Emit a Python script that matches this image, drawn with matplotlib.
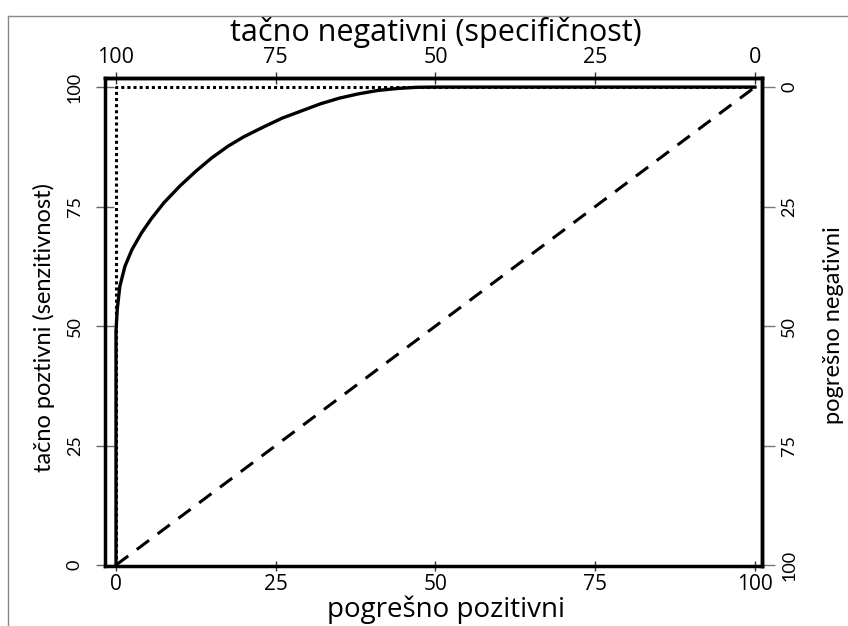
import matplotlib
matplotlib.use("Agg")
import matplotlib.pyplot as plt
from matplotlib.lines import Line2D

plt.rcParams['font.family'] = ['Open Sans', 'DejaVu Sans']
narrow = ['Lato', 'DejaVu Sans']   # vertical texts look squeezed in the source

# ROC curve (percent)
roc_fp = [0, 0, 0.2, 0.6, 1.4, 2.5, 4.0, 5.5, 7.5, 10.0, 12.5, 15.0, 17.5,
          20.0, 23.0, 26.0, 29.0, 32.0, 35.0, 38.0, 41.0, 44.0, 47.0, 50, 100]
roc_tp = [0, 49, 53.5, 58.3, 62.5, 66.0, 69.5, 72.4, 75.8, 79.3, 82.4, 85.2,
          87.6, 89.6, 91.6, 93.5, 95.0, 96.5, 97.7, 98.6, 99.3, 99.7, 99.95,
          100, 100]

# ideal test (dotted) and useless test (dashed)
ideal_fp = [0, 0, 100]
ideal_tp = [0, 100, 100]
chance_fp = [0, 100]
chance_tp = [0, 100]

ticks = [0, 25, 50, 75, 100]

W, H = 848, 626
fig = plt.figure(figsize=(W / 100, H / 100), dpi=100)
ax = fig.add_axes([105 / W, 1 - 566 / H, (762 - 105) / W, (566 - 78) / H])

ax.plot(ideal_fp, ideal_tp, color='black', lw=2.2, linestyle=(0, (1, 1)))
ax.plot(chance_fp, chance_tp, color='black', lw=2.2, linestyle=(0, (5, 3.5)))
ax.plot(roc_fp, roc_tp, color='black', lw=2.4, solid_joinstyle='round')

ax.set_xlim(-1.72, 101.1)
ax.set_ylim(-0.2, 101.9)
for s in ax.spines.values():
    s.set_linewidth(2.5)

ax.set_xticks(ticks)
ax.set_yticks(ticks)
ax.tick_params(axis='x', direction='inout', length=7, width=1, color='#333',
               pad=2, labelsize=15)
ax.tick_params(axis='y', direction='inout', length=13, width=1, color='#666',
               pad=9.5, labelsize=13)
for lab in ax.get_yticklabels():
    lab.set_rotation(90)
    lab.set_rotation_mode('default')
    lab.set_ha('right')
    lab.set_va('center')
    lab.set_family(narrow)

inv = lambda v: 100 - v
top = ax.secondary_xaxis('top', functions=(inv, inv))
top.set_xticks(ticks)
top.tick_params(direction='inout', length=9, width=1, color='#333', pad=3,
                labelsize=15.5)
top.spines['top'].set_linewidth(2.5)

right = ax.secondary_yaxis('right', functions=(inv, inv))
right.set_yticks(ticks)
right.tick_params(direction='out', length=9, width=1, color='#777', pad=5,
                  labelsize=13)
right.spines['right'].set_linewidth(2.5)
for lab in right.get_yticklabels():
    lab.set_rotation(90)
    lab.set_rotation_mode('default')
    lab.set_ha('left')
    lab.set_va('center')
    lab.set_family(narrow)

fig.text(436 / W, 1 - 33 / H, 'tačno negativni (specifičnost)', fontsize=22,
         ha='center', va='center')
fig.text(446 / W, 1 - 617 / H, 'pogrešno pozitivni', fontsize=20,
         ha='center', va='baseline')
fig.text(44 / W, 1 - 328 / H, 'tačno poztivni (senzitivnost)', fontsize=17,
         rotation=90, ha='center', va='center', family=narrow)
fig.text(834 / W, 1 - 325 / H, 'pogrešno negativni', fontsize=17,
         rotation=90, ha='center', va='center', family=narrow)

# thin frame of the screenshot
fig.add_artist(Line2D([8 / W, 8 / W], [0, 1 - 16 / H], color='#888', lw=1))
fig.add_artist(Line2D([8 / W, 1], [1 - 16 / H, 1 - 16 / H], color='#888', lw=1))

fig.savefig('out.png', dpi=100)
